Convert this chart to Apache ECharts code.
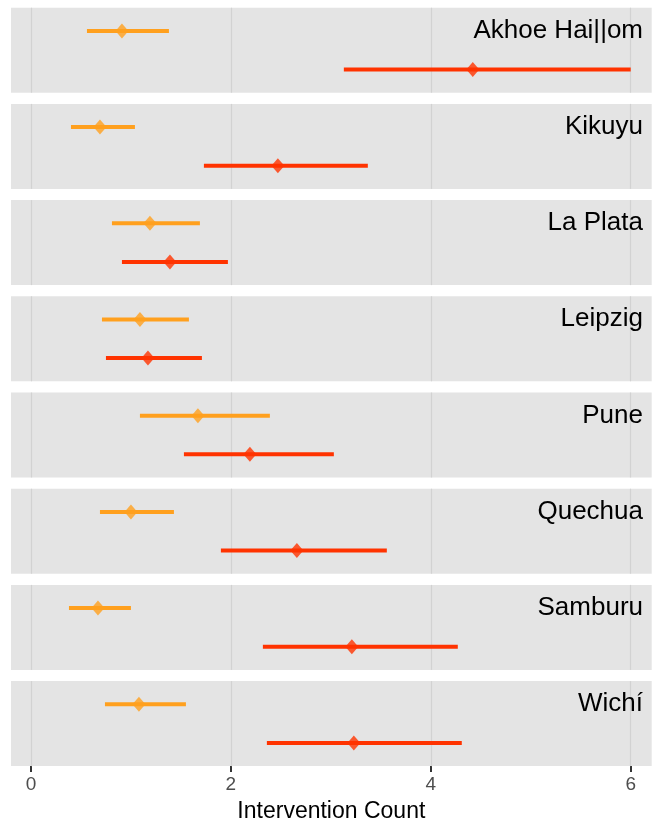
<!DOCTYPE html>
<html>
<head>
<meta charset="utf-8">
<script src="https://cdn.jsdelivr.net/npm/echarts@6/dist/echarts.min.js"></script>
<style>
  html, body { margin: 0; padding: 0; background: #fff; }
  #main { width: 658px; height: 821px; }
</style>
</head>
<body>
<div id="main"></div>
<script>
// panel names (top to bottom)
var groups = ['Akhoe Hai||om', 'Kikuyu', 'La Plata', 'Leipzig', 'Pune', 'Quechua', 'Samburu', 'Wichí'];

// upper (orange) estimate per group
var orangeMean = [0.91, 0.69, 1.19, 1.09, 1.67, 1.00, 0.67, 1.08];
var orangeLow  = [0.56, 0.40, 0.81, 0.71, 1.09, 0.69, 0.38, 0.74];
var orangeHigh = [1.38, 1.04, 1.69, 1.58, 2.39, 1.43, 1.00, 1.55];

// lower (red) estimate per group
var redMean = [4.42, 2.47, 1.39, 1.17, 2.19, 2.66, 3.21, 3.23];
var redLow  = [3.13, 1.73, 0.91, 0.75, 1.53, 1.90, 2.32, 2.36];
var redHigh = [6.00, 3.37, 1.97, 1.71, 3.03, 3.56, 4.27, 4.31];

var xTicks = [0, 2, 4, 6];
var xTitle = 'Intervention Count';

var colors = ['#ffa01e', '#ff3300'];
var font = 'Liberation Sans, Arial, Helvetica, sans-serif';

var chart = echarts.init(document.getElementById('main'));

var panelTop = 7.7, panelH = 85, pitch = 96.2;
var grids = [], xAxes = [], yAxes = [], series = [], titles = [];

groups.forEach(function (name, i) {
  var last = i === groups.length - 1;
  var top = panelTop + i * pitch;
  grids.push({
    left: 11, right: 6.3, top: top, height: panelH,
    outerBoundsMode: 'none', containLabel: false,
    show: true, backgroundColor: '#e4e4e4', borderWidth: 0
  });
  xAxes.push({
    type: 'value', gridIndex: i, min: -0.2, max: 6.21,
    axisLine: { show: false },
    splitLine: { show: false },
    axisTick: {
      show: last, customValues: xTicks, length: 6,
      lineStyle: { color: '#333333', width: 2 }
    },
    axisLabel: {
      show: last, customValues: xTicks, margin: 9,
      color: '#4d4d4d', fontSize: 19, fontFamily: font
    },
    name: last ? xTitle : '',
    nameLocation: 'middle', nameGap: 34,
    nameTextStyle: { color: '#000', fontSize: 23, fontFamily: font }
  });
  yAxes.push({
    type: 'value', gridIndex: i, min: 0.4, max: 2.6, inverse: true,
    show: false
  });
  titles.push({
    text: name, right: 10, top: top + 5,
    textStyle: { color: '#000', fontSize: 26, fontWeight: 'normal', fontFamily: font }
  });

  // vertical grid lines
  series.push({
    type: 'line', xAxisIndex: i, yAxisIndex: i, data: [], z: 1, silent: true,
    markLine: {
      z: 1, silent: true, symbol: ['none', 'none'], label: { show: false },
      lineStyle: { color: '#d2d2d2', width: 1.2, type: 'solid' },
      data: xTicks.map(function (v) { return { xAxis: v }; })
    }
  });

  // interval bars
  series.push({
    type: 'custom', xAxisIndex: i, yAxisIndex: i, z: 3,
    data: [
      [orangeLow[i], orangeHigh[i], 1, 0],
      [redLow[i], redHigh[i], 2, 1]
    ],
    renderItem: function (params, api) {
      var a = api.coord([api.value(0), api.value(2)]);
      var b = api.coord([api.value(1), api.value(2)]);
      return {
        type: 'line',
        shape: { x1: a[0], y1: a[1], x2: b[0], y2: b[1] },
        style: { stroke: colors[api.value(3)], lineWidth: 4, lineCap: 'butt' }
      };
    }
  });

  // point estimates
  series.push({
    type: 'scatter', xAxisIndex: i, yAxisIndex: i, z: 4,
    symbol: 'diamond', symbolSize: [13, 15],
    data: [
      { value: [orangeMean[i], 1], itemStyle: { color: colors[0] } },
      { value: [redMean[i], 2], itemStyle: { color: colors[1] } }
    ]
  });
});

var option = {
  animation: false,
  backgroundColor: '#ffffff',
  title: titles,
  grid: grids,
  xAxis: xAxes,
  yAxis: yAxes,
  series: series
};
chart.setOption(option);
</script>
</body>
</html>
